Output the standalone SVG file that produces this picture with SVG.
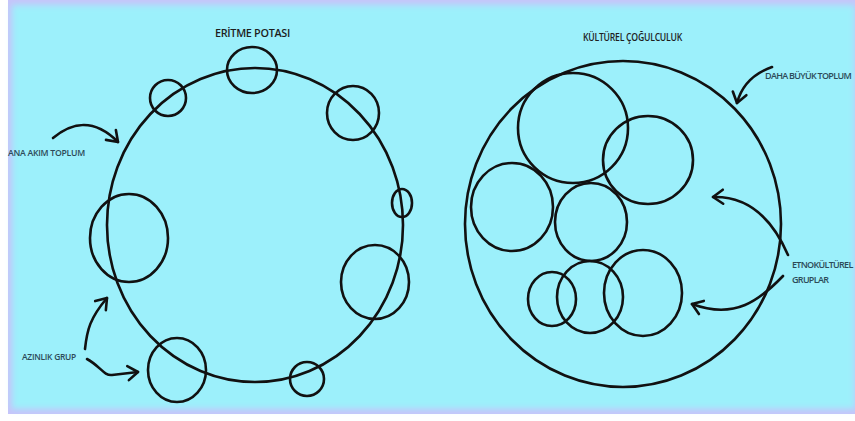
<svg xmlns="http://www.w3.org/2000/svg" width="855" height="421" viewBox="0 0 855 421">
<defs>
<filter id="soft" x="-5%" y="-5%" width="110%" height="110%"><feGaussianBlur stdDeviation="3"/></filter>
<marker id="ah" markerUnits="userSpaceOnUse" markerWidth="24" markerHeight="24" viewBox="-14 -12 24 24" refX="0" refY="0" orient="auto">
<path d="M-10,-7 L0,0 L-10,7" fill="none" stroke="#111" stroke-width="2.6" stroke-linecap="round" stroke-linejoin="round"/>
</marker>
</defs>
<style>
.c{fill:none;stroke:#111;stroke-width:2.6}
.a{fill:none;stroke:#111;stroke-width:2.6;stroke-linecap:round;marker-end:url(#ah)}
.t{font-family:"Open Sans","Liberation Sans",sans-serif;font-size:9.5px;font-weight:600;fill:#2c4a58;letter-spacing:-0.3px}
.r{font-family:"Open Sans","Liberation Sans",sans-serif;font-size:9px;font-weight:600;fill:#2c4a58;letter-spacing:-0.7px}
.h{font-family:"Open Sans","Liberation Sans",sans-serif;font-size:10.5px;font-weight:600;fill:#1e1e1e;letter-spacing:-0.3px}
</style>
<rect x="0" y="0" width="855" height="421" fill="#ffffff"/>
<rect x="8" y="0" width="847" height="414" fill="#c6c4fa"/>
<rect x="12" y="5" width="843" height="404" fill="#9cf0fb" filter="url(#soft)"/>

<g id="title-left"><text class="h" x="215" y="37" textLength="75" lengthAdjust="spacingAndGlyphs">ERİTME POTASI</text></g>
<g id="title-right"><text class="h" x="583" y="41" textLength="99" lengthAdjust="spacingAndGlyphs">KÜLTÜREL ÇOĞULCULUK</text></g>

<g id="mainstream"><ellipse class="c" cx="255" cy="225" rx="148" ry="157"/></g>
<g id="minority-top"><ellipse class="c" cx="252" cy="70" rx="25" ry="23"/></g>
<g id="minority-upper-left"><ellipse class="c" cx="168" cy="98" rx="18" ry="18"/></g>
<g id="minority-upper-right"><ellipse class="c" cx="353" cy="113" rx="26" ry="27"/></g>
<g id="minority-right-small"><ellipse class="c" cx="402" cy="203" rx="10" ry="14"/></g>
<g id="minority-left"><ellipse class="c" cx="129" cy="238" rx="39" ry="44"/></g>
<g id="minority-right"><ellipse class="c" cx="375" cy="282" rx="34" ry="37"/></g>
<g id="minority-bottom-left"><ellipse class="c" cx="177" cy="370" rx="29" ry="32"/></g>
<g id="minority-bottom-right"><ellipse class="c" cx="307" cy="379" rx="17" ry="17"/></g>

<g id="larger-society"><ellipse class="c" cx="623" cy="224" rx="158" ry="163"/></g>
<g id="ethno-a"><ellipse class="c" cx="573" cy="128" rx="55" ry="55"/></g>
<g id="ethno-b"><ellipse class="c" cx="648" cy="160" rx="45" ry="44"/></g>
<g id="ethno-c"><ellipse class="c" cx="512" cy="207" rx="41" ry="44"/></g>
<g id="ethno-d"><ellipse class="c" cx="591" cy="222" rx="36" ry="39"/></g>
<g id="ethno-e"><ellipse class="c" cx="552" cy="299" rx="24" ry="27"/></g>
<g id="ethno-f"><ellipse class="c" cx="590" cy="297" rx="33" ry="36"/></g>
<g id="ethno-g"><ellipse class="c" cx="643" cy="293" rx="39" ry="43"/></g>

<g id="label-mainstream"><text class="t" x="8" y="156" textLength="77" lengthAdjust="spacingAndGlyphs">ANA AKIM TOPLUM</text></g>
<g id="label-minority"><text class="t" x="22" y="360" textLength="54" lengthAdjust="spacingAndGlyphs">AZINLIK GRUP</text></g>
<g id="label-larger"><text class="r" x="765" y="79">DAHA BÜYÜK TOPLUM</text></g>
<g id="label-ethno"><text class="r" x="792" y="268">ETNOKÜLTÜREL</text><text class="r" x="792" y="283">GRUPLAR</text></g>

<g id="connectors">
<path class="a" d="M53,138 C70,124 92,116 118,142"/>
<path class="a" d="M85,349 C87,330 90,318 107,298"/>
<path class="a" d="M87,359 C100,366 104,376 112,375 L138,372"/>
<path class="a" d="M772,67 C752,74 741,88 737,103"/>
<path class="a" d="M788,255 C772,218 748,196 713,197"/>
<path class="a" d="M783,276 C760,300 735,320 692,304"/>
</g>
</svg>
